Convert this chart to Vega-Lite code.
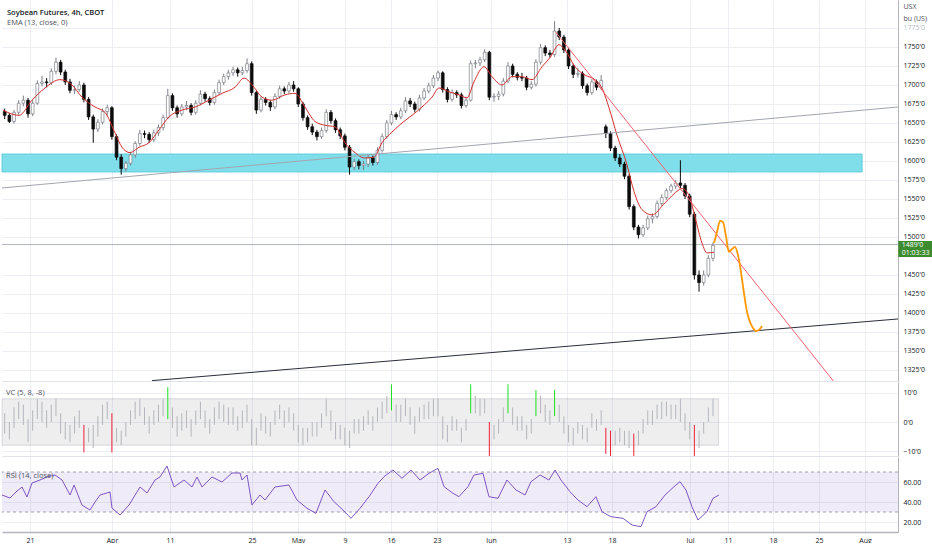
{
  "$schema": "https://vega.github.io/schema/vega-lite/v6.json",
  "background": "#ffffff",
  "padding": 0,
  "spacing": 1,
  "bounds": "flush",
  "datasets": {
    "bars": [
      {"t":-2.5,"o":1665,"h":1669,"l":1655,"c":1660,"vh":3,"vl":-4},
      {"t":-2,"o":1660,"h":1663,"l":1650,"c":1652,"vh":0,"vl":-6},
      {"t":-1.5,"o":1652,"h":1667,"l":1649,"c":1664,"vh":5,"vl":-2},
      {"t":-1,"o":1664,"h":1680,"l":1661,"c":1676,"vh":7,"vl":1},
      {"t":-0.5,"o":1676,"h":1686,"l":1672,"c":1680,"vh":6,"vl":-1},
      {"t":0,"o":1680,"h":1683,"l":1657,"c":1662,"vh":1,"vl":-7},
      {"t":0.5,"o":1662,"h":1680,"l":1659,"c":1676,"vh":4,"vl":-3},
      {"t":1,"o":1676,"h":1706,"l":1674,"c":1702,"vh":8,"vl":1},
      {"t":1.5,"o":1702,"h":1712,"l":1698,"c":1704,"vh":7,"vl":0},
      {"t":2,"o":1704,"h":1709,"l":1697,"c":1703,"vh":4,"vl":-2},
      {"t":2.5,"o":1703,"h":1722,"l":1700,"c":1718,"vh":6,"vl":0},
      {"t":3,"o":1718,"h":1736,"l":1714,"c":1730,"vh":8,"vl":2},
      {"t":3.5,"o":1730,"h":1733,"l":1713,"c":1717,"vh":3,"vl":-4},
      {"t":4,"o":1717,"h":1720,"l":1700,"c":1704,"vh":0,"vl":-6},
      {"t":4.5,"o":1704,"h":1708,"l":1689,"c":1693,"vh":-1,"vl":-7},
      {"t":5,"o":1693,"h":1699,"l":1688,"c":1694,"vh":2,"vl":-4},
      {"t":5.5,"o":1694,"h":1705,"l":1691,"c":1700,"vh":4,"vl":-2},
      {"t":6,"o":1700,"h":1703,"l":1677,"c":1681,"vh":-1,"vl":-10.5},
      {"t":6.5,"o":1681,"h":1684,"l":1654,"c":1658,"vh":-2,"vl":-7},
      {"t":7,"o":1658,"h":1661,"l":1624,"c":1642,"vh":-1,"vl":-9},
      {"t":7.5,"o":1642,"h":1655,"l":1638,"c":1651,"vh":2,"vl":-5},
      {"t":8,"o":1651,"h":1669,"l":1648,"c":1665,"vh":6,"vl":-1},
      {"t":8.5,"o":1665,"h":1674,"l":1660,"c":1670,"vh":7,"vl":1},
      {"t":9,"o":1670,"h":1672,"l":1628,"c":1632,"vh":3,"vl":-10.5},
      {"t":9.5,"o":1632,"h":1635,"l":1601,"c":1605,"vh":-2,"vl":-7},
      {"t":10,"o":1605,"h":1609,"l":1582,"c":1590,"vh":-3,"vl":-8},
      {"t":10.5,"o":1590,"h":1600,"l":1586,"c":1597,"vh":0,"vl":-5},
      {"t":11,"o":1597,"h":1612,"l":1594,"c":1608,"vh":4,"vl":-1},
      {"t":11.5,"o":1608,"h":1626,"l":1604,"c":1623,"vh":7,"vl":1},
      {"t":12,"o":1623,"h":1641,"l":1620,"c":1636,"vh":8,"vl":2},
      {"t":12.5,"o":1636,"h":1640,"l":1630,"c":1635,"vh":5,"vl":-1},
      {"t":13,"o":1635,"h":1638,"l":1624,"c":1628,"vh":2,"vl":-4},
      {"t":13.5,"o":1628,"h":1641,"l":1625,"c":1637,"vh":4,"vl":-1},
      {"t":14,"o":1637,"h":1648,"l":1633,"c":1644,"vh":6,"vl":0},
      {"t":14.5,"o":1644,"h":1661,"l":1640,"c":1657,"vh":8,"vl":2},
      {"t":15,"o":1657,"h":1695,"l":1655,"c":1686,"vh":12,"vl":1},
      {"t":15.5,"o":1686,"h":1689,"l":1666,"c":1670,"vh":5,"vl":-2},
      {"t":16,"o":1670,"h":1673,"l":1657,"c":1662,"vh":2,"vl":-5},
      {"t":16.5,"o":1662,"h":1675,"l":1659,"c":1671,"vh":3,"vl":-3},
      {"t":17,"o":1671,"h":1679,"l":1667,"c":1673,"vh":4,"vl":-2},
      {"t":17.5,"o":1673,"h":1676,"l":1660,"c":1664,"vh":1,"vl":-5},
      {"t":18,"o":1664,"h":1680,"l":1661,"c":1676,"vh":4,"vl":-1},
      {"t":18.5,"o":1676,"h":1693,"l":1673,"c":1688,"vh":7,"vl":1},
      {"t":19,"o":1688,"h":1691,"l":1678,"c":1682,"vh":4,"vl":-2},
      {"t":19.5,"o":1682,"h":1685,"l":1673,"c":1677,"vh":1,"vl":-4},
      {"t":20,"o":1677,"h":1694,"l":1674,"c":1690,"vh":5,"vl":-1},
      {"t":20.5,"o":1690,"h":1707,"l":1687,"c":1703,"vh":7,"vl":1},
      {"t":21,"o":1703,"h":1715,"l":1700,"c":1711,"vh":6,"vl":0},
      {"t":21.5,"o":1711,"h":1720,"l":1707,"c":1716,"vh":5,"vl":-1},
      {"t":22,"o":1716,"h":1724,"l":1712,"c":1720,"vh":5,"vl":-1},
      {"t":22.5,"o":1720,"h":1723,"l":1711,"c":1716,"vh":2,"vl":-3},
      {"t":23,"o":1716,"h":1724,"l":1713,"c":1719,"vh":4,"vl":-2},
      {"t":23.5,"o":1719,"h":1735,"l":1716,"c":1728,"vh":6,"vl":0},
      {"t":24,"o":1728,"h":1731,"l":1686,"c":1690,"vh":1,"vl":-8},
      {"t":24.5,"o":1690,"h":1693,"l":1662,"c":1667,"vh":-2,"vl":-8},
      {"t":25,"o":1667,"h":1685,"l":1664,"c":1681,"vh":3,"vl":-3},
      {"t":25.5,"o":1681,"h":1684,"l":1673,"c":1677,"vh":2,"vl":-4},
      {"t":26,"o":1677,"h":1680,"l":1666,"c":1671,"vh":0,"vl":-5},
      {"t":26.5,"o":1671,"h":1689,"l":1668,"c":1685,"vh":4,"vl":-1},
      {"t":27,"o":1685,"h":1699,"l":1682,"c":1695,"vh":6,"vl":1},
      {"t":27.5,"o":1695,"h":1698,"l":1688,"c":1692,"vh":4,"vl":-2},
      {"t":28,"o":1692,"h":1704,"l":1689,"c":1700,"vh":5,"vl":0},
      {"t":28.5,"o":1700,"h":1705,"l":1691,"c":1695,"vh":3,"vl":-3},
      {"t":29,"o":1695,"h":1697,"l":1671,"c":1675,"vh":-1,"vl":-7},
      {"t":29.5,"o":1675,"h":1678,"l":1653,"c":1657,"vh":-2,"vl":-8},
      {"t":30,"o":1657,"h":1660,"l":1641,"c":1645,"vh":-2,"vl":-7},
      {"t":30.5,"o":1645,"h":1649,"l":1634,"c":1638,"vh":0,"vl":-5},
      {"t":31,"o":1638,"h":1641,"l":1627,"c":1632,"vh":0,"vl":-5},
      {"t":31.5,"o":1632,"h":1644,"l":1629,"c":1640,"vh":3,"vl":-2},
      {"t":32,"o":1640,"h":1668,"l":1637,"c":1664,"vh":8,"vl":2},
      {"t":32.5,"o":1664,"h":1667,"l":1649,"c":1653,"vh":4,"vl":-3},
      {"t":33,"o":1653,"h":1656,"l":1637,"c":1641,"vh":0,"vl":-6},
      {"t":33.5,"o":1641,"h":1644,"l":1629,"c":1633,"vh":-1,"vl":-6},
      {"t":34,"o":1633,"h":1636,"l":1614,"c":1618,"vh":-2,"vl":-8},
      {"t":34.5,"o":1618,"h":1621,"l":1582,"c":1592,"vh":-3,"vl":-9},
      {"t":35,"o":1592,"h":1603,"l":1588,"c":1599,"vh":1,"vl":-4},
      {"t":35.5,"o":1599,"h":1602,"l":1589,"c":1594,"vh":1,"vl":-4},
      {"t":36,"o":1594,"h":1600,"l":1588,"c":1596,"vh":2,"vl":-3},
      {"t":36.5,"o":1596,"h":1608,"l":1592,"c":1604,"vh":4,"vl":-1},
      {"t":37,"o":1604,"h":1607,"l":1594,"c":1598,"vh":2,"vl":-3},
      {"t":37.5,"o":1598,"h":1618,"l":1595,"c":1614,"vh":5,"vl":0},
      {"t":38,"o":1614,"h":1636,"l":1611,"c":1632,"vh":7,"vl":1},
      {"t":38.5,"o":1632,"h":1654,"l":1629,"c":1650,"vh":9,"vl":3},
      {"t":39,"o":1650,"h":1666,"l":1647,"c":1661,"vh":13,"vl":4},
      {"t":39.5,"o":1661,"h":1664,"l":1654,"c":1658,"vh":6,"vl":0},
      {"t":40,"o":1658,"h":1670,"l":1655,"c":1666,"vh":6,"vl":0},
      {"t":40.5,"o":1666,"h":1684,"l":1663,"c":1679,"vh":8,"vl":2},
      {"t":41,"o":1679,"h":1683,"l":1671,"c":1675,"vh":5,"vl":-1},
      {"t":41.5,"o":1675,"h":1678,"l":1664,"c":1668,"vh":2,"vl":-4},
      {"t":42,"o":1668,"h":1687,"l":1665,"c":1683,"vh":5,"vl":0},
      {"t":42.5,"o":1683,"h":1696,"l":1680,"c":1692,"vh":6,"vl":1},
      {"t":43,"o":1692,"h":1703,"l":1689,"c":1699,"vh":7,"vl":1},
      {"t":43.5,"o":1699,"h":1713,"l":1696,"c":1709,"vh":8,"vl":2},
      {"t":44,"o":1709,"h":1719,"l":1705,"c":1716,"vh":8,"vl":2},
      {"t":44.5,"o":1716,"h":1718,"l":1690,"c":1694,"vh":2,"vl":-6},
      {"t":45,"o":1694,"h":1697,"l":1677,"c":1681,"vh":-1,"vl":-7},
      {"t":45.5,"o":1681,"h":1694,"l":1678,"c":1690,"vh":2,"vl":-3},
      {"t":46,"o":1690,"h":1693,"l":1683,"c":1687,"vh":1,"vl":-3},
      {"t":46.5,"o":1687,"h":1690,"l":1669,"c":1673,"vh":-2,"vl":-7},
      {"t":47,"o":1673,"h":1684,"l":1670,"c":1680,"vh":1,"vl":-3},
      {"t":47.5,"o":1680,"h":1732,"l":1678,"c":1728,"vh":13,"vl":3},
      {"t":48,"o":1728,"h":1733,"l":1722,"c":1729,"vh":9,"vl":3},
      {"t":48.5,"o":1729,"h":1737,"l":1725,"c":1733,"vh":8,"vl":2},
      {"t":49,"o":1733,"h":1747,"l":1730,"c":1743,"vh":8,"vl":3},
      {"t":49.5,"o":1743,"h":1745,"l":1680,"c":1684,"vh":0,"vl":-13},
      {"t":50,"o":1684,"h":1689,"l":1678,"c":1685,"vh":-1,"vl":-6},
      {"t":50.5,"o":1685,"h":1692,"l":1680,"c":1688,"vh":1,"vl":-4},
      {"t":51,"o":1688,"h":1709,"l":1685,"c":1705,"vh":5,"vl":0},
      {"t":51.5,"o":1705,"h":1730,"l":1702,"c":1725,"vh":13,"vl":3},
      {"t":52,"o":1725,"h":1728,"l":1710,"c":1714,"vh":5,"vl":-1},
      {"t":52.5,"o":1714,"h":1717,"l":1706,"c":1710,"vh":2,"vl":-3},
      {"t":53,"o":1710,"h":1716,"l":1705,"c":1709,"vh":2,"vl":-3},
      {"t":53.5,"o":1709,"h":1712,"l":1693,"c":1697,"vh":-1,"vl":-6},
      {"t":54,"o":1697,"h":1705,"l":1694,"c":1701,"vh":1,"vl":-4},
      {"t":54.5,"o":1701,"h":1734,"l":1698,"c":1730,"vh":11,"vl":2},
      {"t":55,"o":1730,"h":1754,"l":1727,"c":1749,"vh":9,"vl":3},
      {"t":55.5,"o":1749,"h":1752,"l":1738,"c":1742,"vh":6,"vl":0},
      {"t":56,"o":1742,"h":1746,"l":1736,"c":1740,"vh":4,"vl":-1},
      {"t":56.5,"o":1740,"h":1784,"l":1737,"c":1771,"vh":11,"vl":2},
      {"t":57,"o":1771,"h":1775,"l":1759,"c":1763,"vh":6,"vl":0},
      {"t":57.5,"o":1763,"h":1766,"l":1742,"c":1746,"vh":2,"vl":-4},
      {"t":58,"o":1746,"h":1749,"l":1721,"c":1725,"vh":-1,"vl":-7},
      {"t":58.5,"o":1725,"h":1728,"l":1709,"c":1714,"vh":-2,"vl":-8},
      {"t":59,"o":1714,"h":1722,"l":1710,"c":1715,"vh":0,"vl":-4},
      {"t":59.5,"o":1715,"h":1718,"l":1695,"c":1699,"vh":-1,"vl":-6},
      {"t":60,"o":1699,"h":1702,"l":1686,"c":1690,"vh":-2,"vl":-7},
      {"t":60.5,"o":1690,"h":1708,"l":1687,"c":1704,"vh":3,"vl":-2},
      {"t":61,"o":1704,"h":1707,"l":1693,"c":1697,"vh":1,"vl":-3},
      {"t":61.5,"o":1697,"h":1713,"l":1694,"c":1706,"vh":4,"vl":-1},
      {"t":62,"o":1645,"h":1648,"l":1630,"c":1636,"vh":-2,"vl":-11},
      {"t":62.5,"o":1636,"h":1639,"l":1613,"c":1617,"vh":-3,"vl":-12},
      {"t":63,"o":1617,"h":1620,"l":1600,"c":1604,"vh":-3,"vl":-8},
      {"t":63.5,"o":1604,"h":1609,"l":1592,"c":1596,"vh":-2,"vl":-7},
      {"t":64,"o":1596,"h":1599,"l":1576,"c":1580,"vh":-3,"vl":-8},
      {"t":64.5,"o":1580,"h":1583,"l":1536,"c":1540,"vh":-3,"vl":-9},
      {"t":65,"o":1540,"h":1543,"l":1509,"c":1513,"vh":-4,"vl":-13},
      {"t":65.5,"o":1513,"h":1516,"l":1498,"c":1503,"vh":-3,"vl":-8},
      {"t":66,"o":1503,"h":1516,"l":1500,"c":1512,"vh":1,"vl":-4},
      {"t":66.5,"o":1512,"h":1528,"l":1509,"c":1524,"vh":4,"vl":-1},
      {"t":67,"o":1524,"h":1531,"l":1518,"c":1527,"vh":4,"vl":-1},
      {"t":67.5,"o":1527,"h":1548,"l":1524,"c":1544,"vh":6,"vl":1},
      {"t":68,"o":1544,"h":1556,"l":1541,"c":1552,"vh":7,"vl":1},
      {"t":68.5,"o":1552,"h":1564,"l":1549,"c":1561,"vh":7,"vl":2},
      {"t":69,"o":1561,"h":1570,"l":1558,"c":1567,"vh":6,"vl":1},
      {"t":69.5,"o":1567,"h":1575,"l":1563,"c":1571,"vh":6,"vl":1},
      {"t":70,"o":1571,"h":1601,"l":1564,"c":1568,"vh":8,"vl":0},
      {"t":70.5,"o":1568,"h":1571,"l":1550,"c":1554,"vh":3,"vl":-3},
      {"t":71,"o":1554,"h":1557,"l":1526,"c":1530,"vh":0,"vl":-6},
      {"t":71.5,"o":1530,"h":1533,"l":1444,"c":1450,"vh":-1,"vl":-14},
      {"t":72,"o":1450,"h":1456,"l":1428,"c":1440,"vh":-3,"vl":-9},
      {"t":72.5,"o":1440,"h":1456,"l":1436,"c":1450,"vh":0,"vl":-4},
      {"t":73,"o":1450,"h":1476,"l":1447,"c":1472,"vh":5,"vl":0},
      {"t":73.5,"o":1472,"h":1493,"l":1468,"c":1489,"vh":8,"vl":2}
    ],
    "ema": [
      {"t":-2.7,"p":1667},{"t":-0.97,"p":1660},{"t":0.43,"p":1680},{"t":1.82,"p":1696},{"t":3.43,"p":1707},
      {"t":4.72,"p":1700},{"t":5.79,"p":1684},{"t":7.19,"p":1671},{"t":8.26,"p":1664},{"t":9.33,"p":1637},
      {"t":10.09,"p":1618},{"t":10.94,"p":1611},{"t":11.91,"p":1618},{"t":12.98,"p":1624},{"t":14.06,"p":1641},
      {"t":15.13,"p":1658},{"t":16.52,"p":1667},{"t":17.92,"p":1671},{"t":19.42,"p":1680},{"t":20.82,"p":1689},
      {"t":22.21,"p":1697},{"t":23.18,"p":1709},{"t":24.25,"p":1697},{"t":25.11,"p":1684},{"t":26.18,"p":1680},
      {"t":27.58,"p":1687},{"t":28.65,"p":1689},{"t":29.72,"p":1671},{"t":30.79,"p":1652},{"t":31.87,"p":1647},
      {"t":32.94,"p":1645},{"t":34.01,"p":1624},{"t":35.09,"p":1611},{"t":36.05,"p":1604},{"t":37.12,"p":1605},
      {"t":37.98,"p":1624},{"t":39.06,"p":1638},{"t":40.13,"p":1650},{"t":41.2,"p":1660},{"t":42.27,"p":1671},
      {"t":43.35,"p":1684},{"t":44.1,"p":1696},{"t":45.17,"p":1691},{"t":46.24,"p":1687},{"t":47.1,"p":1683},
      {"t":47.85,"p":1704},{"t":48.93,"p":1724},{"t":49.79,"p":1711},{"t":50.86,"p":1700},{"t":51.93,"p":1711},
      {"t":53.0,"p":1711},{"t":54.08,"p":1707},{"t":55.15,"p":1724},{"t":56.01,"p":1736},{"t":56.97,"p":1753},
      {"t":57.62,"p":1746},{"t":58.69,"p":1724},{"t":59.76,"p":1713},{"t":60.84,"p":1707},{"t":61.59,"p":1696},
      {"t":62.34,"p":1670},{"t":63.2,"p":1634},{"t":64.27,"p":1595},{"t":65.02,"p":1560},{"t":65.88,"p":1536},
      {"t":66.95,"p":1529},{"t":68.35,"p":1545},{"t":69.85,"p":1562},{"t":70.17,"p":1564},{"t":70.92,"p":1555},
      {"t":71.57,"p":1526},{"t":72.32,"p":1492},{"t":72.85,"p":1479},{"t":73.61,"p":1480}
    ],
    "rsi": [
      {"t":-2.79,"r":47},{"t":-1.93,"r":44},{"t":-1.29,"r":50},{"t":-0.64,"r":55},{"t":-0.11,"r":45},
      {"t":0.43,"r":59},{"t":1.29,"r":62},{"t":2.04,"r":65},{"t":2.9,"r":67},{"t":3.65,"r":62},
      {"t":4.51,"r":47},{"t":4.94,"r":57},{"t":5.79,"r":37},{"t":6.65,"r":32},{"t":7.19,"r":40},
      {"t":7.73,"r":47},{"t":8.8,"r":50},{"t":9.01,"r":34},{"t":9.87,"r":27},{"t":10.84,"r":37},
      {"t":12.02,"r":55},{"t":12.77,"r":49},{"t":13.63,"r":62},{"t":14.16,"r":65},{"t":14.91,"r":76},
      {"t":15.67,"r":55},{"t":16.74,"r":62},{"t":17.6,"r":55},{"t":18.13,"r":65},{"t":18.67,"r":55},
      {"t":19.74,"r":65},{"t":20.82,"r":60},{"t":21.89,"r":69},{"t":22.75,"r":69},{"t":22.96,"r":62},
      {"t":23.5,"r":67},{"t":24.03,"r":37},{"t":24.89,"r":47},{"t":25.43,"r":42},{"t":26.5,"r":55},
      {"t":28.0,"r":57},{"t":28.86,"r":42},{"t":29.94,"r":33.7},{"t":30.9,"r":28.7},{"t":31.87,"r":52},
      {"t":32.83,"r":40.3},{"t":33.8,"r":32},{"t":34.66,"r":23.7},{"t":35.62,"r":33.7},{"t":36.59,"r":45.3},
      {"t":37.55,"r":58.7},{"t":38.2,"r":65.3},{"t":39.16,"r":72},{"t":40.13,"r":63.7},{"t":41.09,"r":72},
      {"t":42.06,"r":62},{"t":43.03,"r":68.7},{"t":43.99,"r":73.7},{"t":44.64,"r":55.3},{"t":45.6,"r":48.7},
      {"t":46.24,"r":45.3},{"t":47.21,"r":55.3},{"t":47.85,"r":67},{"t":48.82,"r":68.7},{"t":49.46,"r":45.3},
      {"t":50.43,"r":43.7},{"t":51.39,"r":62},{"t":52.36,"r":52},{"t":53.33,"r":47},{"t":53.97,"r":60.3},
      {"t":54.94,"r":67},{"t":55.9,"r":62},{"t":56.55,"r":72},{"t":57.19,"r":62},{"t":58.15,"r":50.3},
      {"t":59.01,"r":42},{"t":59.98,"r":35.3},{"t":60.94,"r":45.3},{"t":61.59,"r":30.3},{"t":62.55,"r":25.3},
      {"t":63.84,"r":23.7},{"t":64.81,"r":17},{"t":65.77,"r":15.3},{"t":66.42,"r":30.3},{"t":67.38,"r":35.3},
      {"t":68.35,"r":47},{"t":69.31,"r":55.3},{"t":69.96,"r":60.3},{"t":70.6,"r":52},{"t":71.24,"r":35.3},
      {"t":71.89,"r":22},{"t":72.85,"r":30.3},{"t":73.5,"r":43.7},{"t":74.14,"r":47}
    ],
    "proj": [
      {"s":1,"t":73.61,"p":1492.1},{"s":2,"t":73.93,"p":1506.6},{"s":3,"t":74.25,"p":1521.1},
      {"s":4,"t":74.57,"p":1519.7},{"s":5,"t":74.89,"p":1501.3},{"s":6,"t":75.21,"p":1480.3},
      {"s":7,"t":75.54,"p":1484.2},{"s":8,"t":75.86,"p":1486.8},{"s":9,"t":76.18,"p":1476.3},
      {"s":10,"t":76.5,"p":1453.9},{"s":11,"t":76.82,"p":1426.3},{"s":12,"t":77.15,"p":1401.3},
      {"s":13,"t":77.47,"p":1388.2},{"s":14,"t":77.79,"p":1380.3},{"s":15,"t":78.11,"p":1376.3},
      {"s":16,"t":78.43,"p":1377.6},{"s":17,"t":78.76,"p":1382.9}
    ],
    "lines": [
      {"n":"support","t":-2.79,"p":1564.5,"t2":93.35,"p2":1671},
      {"n":"base","t":13.3,"p":1311,"t2":93.35,"p2":1392.1},
      {"n":"down","t":56.6,"p":1770,"t2":87.1,"p2":1300}
    ],
    "zone": [{"t":-2.79,"t2":89.5,"lo":1585.5,"hi":1609.2}],
    "last": [{"p":1490}],
    "tag": [{"t":93.38,"t2":97.2,"lo":1473.7,"hi":1494.7}],
    "tagtext": [
      {"t":93.75,"p":1489.6,"s":"1489'0"},
      {"t":93.75,"p":1478.6,"s":"01:03:33"}
    ],
    "vband": [{"t":-2.79,"t2":74.1,"lo":-8,"hi":8}],
    "rband": [{"lo":30,"hi":70}],
    "rlevels": [{"r":30},{"r":70}]
  },
  "vconcat": [
    {
      "width": 896,
      "height": 381,
      "title": {
        "text": "Soybean Futures, 4h, CBOT",
        "subtitle": "EMA (13, close, 0)",
        "anchor": "start",
        "frame": "group",
        "orient": "top",
        "offset": -26,
        "dx": 5,
        "font": "Open Sans",
        "fontSize": 7.5,
        "fontWeight": 600,
        "color": "#131722",
        "subtitleFont": "Open Sans",
        "subtitleFontSize": 7.5,
        "subtitleColor": "#50535e",
        "subtitlePadding": 2
      },
      "encoding": {
        "y": {"field": "p", "type": "quantitative", "scale": {"domain": [1310.5, 1811.8], "nice": false, "zero": false, "padding": 0},
          "axis": {"orient": "right", "values": [1325,1350,1375,1400,1425,1450,1500,1525,1550,1575,1600,1625,1650,1675,1700,1725,1750,1775],
            "labelExpr": "format(datum.value, '.0f') + \"'0\"",
            "labelColor": {"condition": {"test": "datum.value >= 1775", "value": "#b8bbc4"}, "value": "#131722"},
            "grid": true, "domain": true, "domainColor": "#b2b5be", "ticks": false, "labelPadding": 5,
            "labelFont": "Open Sans", "labelFontSize": 7, "labelFlush": false,
            "title": ["USX", "bu (US)"], "titleAngle": 0, "titleAlign": "left", "titleBaseline": "top",
            "titleX": 5, "titleY": 2, "titleFont": "Open Sans", "titleFontSize": 7, "titleFontWeight": "normal",
            "titleColor": "#50535e", "titleLineHeight": 12}}
      },
      "layer": [
        {
          "data": {"name": "zone"},
          "mark": {"type": "rect", "fill": "#80deea", "stroke": "#52c7d8", "strokeWidth": 0.8},
          "encoding": {
            "x": {"field": "t", "type": "quantitative", "scale": {"domain": [-2.79, 93.35], "nice": false, "zero": false, "padding": 0},
              "axis": {"orient": "bottom", "values": [0.21,9.01,15.24,24.03,28.97,34.01,38.95,43.88,49.68,57.83,62.66,71.03,75.11,79.94,84.87,89.81],
                "labels": false, "ticks": false, "domain": true, "domainColor": "#e0e3eb", "grid": true, "title": null}},
            "x2": {"field": "t2"},
            "y": {"field": "lo", "type": "quantitative"},
            "y2": {"field": "hi"}
          }
        },
        {
          "data": {"name": "last"},
          "mark": {"type": "rule", "color": "#b2b5be", "strokeWidth": 1}
        },
        {
          "data": {"name": "bars"},
          "mark": {"type": "rule", "strokeWidth": 1},
          "encoding": {
            "x": {"field": "t", "type": "quantitative"},
            "y": {"field": "l", "type": "quantitative"},
            "y2": {"field": "h"},
            "color": {"condition": {"test": "datum.c >= datum.o", "value": "#7c7f88"}, "value": "#0b0b0b"}
          }
        },
        {
          "data": {"name": "bars"},
          "mark": {"type": "bar", "size": 2.8, "strokeWidth": 0.7},
          "encoding": {
            "x": {"field": "t", "type": "quantitative"},
            "y": {"field": "o", "type": "quantitative"},
            "y2": {"field": "c"},
            "fill": {"condition": {"test": "datum.c >= datum.o", "value": "#ffffff"}, "value": "#0b0b0b"},
            "stroke": {"condition": {"test": "datum.c >= datum.o", "value": "#7c7f88"}, "value": "#0b0b0b"}
          }
        },
        {
          "data": {"name": "ema"},
          "mark": {"type": "line", "color": "#d32f2f", "strokeWidth": 1, "interpolate": "monotone"},
          "encoding": {
            "x": {"field": "t", "type": "quantitative"}
          }
        },
        {
          "data": {"name": "lines"},
          "mark": {"type": "rule", "strokeWidth": 1, "clip": true},
          "encoding": {
            "x": {"field": "t", "type": "quantitative"},
            "x2": {"field": "t2"},
            "y2": {"field": "p2"},
            "color": {"field": "n", "type": "nominal", "scale": {"domain": ["support", "base", "down"], "range": ["#a3a6af", "#2a2e39", "#f7626e"]}, "legend": null}
          }
        },
        {
          "data": {"name": "proj"},
          "mark": {"type": "line", "color": "#ff9800", "strokeWidth": 1.8, "interpolate": "monotone"},
          "encoding": {
            "x": {"field": "t", "type": "quantitative"},
            "order": {"field": "s", "type": "quantitative"}
          }
        },
        {
          "data": {"name": "tag"},
          "mark": {"type": "rect", "fill": "#3d8b2f"},
          "encoding": {
            "x": {"field": "t", "type": "quantitative"},
            "x2": {"field": "t2"},
            "y": {"field": "lo", "type": "quantitative"},
            "y2": {"field": "hi"}
          }
        },
        {
          "data": {"name": "tagtext"},
          "mark": {"type": "text", "color": "#ffffff", "font": "Open Sans", "fontSize": 7, "align": "left", "baseline": "middle"},
          "encoding": {
            "x": {"field": "t", "type": "quantitative"},
            "text": {"field": "s"}
          }
        }
      ]
    },
    {
      "width": 896,
      "height": 74,
      "title": {
        "text": "VC (5, 8, -8)",
        "anchor": "start",
        "frame": "group",
        "orient": "top",
        "offset": -14,
        "dx": 4,
        "font": "Open Sans",
        "fontSize": 7.5,
        "fontWeight": "normal",
        "color": "#50535e"
      },
      "encoding": {
        "y": {"field": "lo", "type": "quantitative", "scale": {"domain": [-11.72, 13.79], "nice": false, "zero": false},
          "axis": {"orient": "right", "values": [-10, 0, 10], "labelExpr": "format(datum.value, 'd') + \"'0\"",
            "grid": true, "domain": true, "domainColor": "#b2b5be", "ticks": false, "labelPadding": 5,
            "labelFont": "Open Sans", "labelFontSize": 7, "labelColor": "#131722", "labelFlush": false, "title": null}}
      },
      "layer": [
        {
          "data": {"name": "vband"},
          "mark": {"type": "rect", "fill": "#787b86", "fillOpacity": 0.13, "stroke": "#787b86", "strokeOpacity": 0.3, "strokeWidth": 0.8},
          "encoding": {
            "x": {"field": "t", "type": "quantitative", "scale": {"domain": [-2.79, 93.35], "nice": false, "zero": false, "padding": 0},
              "axis": {"orient": "bottom", "values": [0.21,9.01,15.24,24.03,28.97,34.01,38.95,43.88,49.68,57.83,62.66,71.03,75.11,79.94,84.87,89.81],
                "labels": false, "ticks": false, "domain": true, "domainColor": "#e0e3eb", "grid": true, "title": null}},
            "x2": {"field": "t2"},
            "y2": {"field": "hi"}
          }
        },
        {
          "data": {"name": "bars"},
          "mark": {"type": "rule", "strokeWidth": 1, "clip": true},
          "encoding": {
            "x": {"field": "t", "type": "quantitative"},
            "y": {"field": "vl", "type": "quantitative"},
            "y2": {"field": "vh"},
            "color": {"condition": [
              {"test": "datum.vh >= 10", "value": "#1ee01e"},
              {"test": "datum.vl <= -10", "value": "#f0203a"}
            ], "value": "#b4b6bb"}
          }
        }
      ]
    },
    {
      "width": 896,
      "height": 75,
      "title": {
        "text": "RSI (14, close)",
        "anchor": "start",
        "frame": "group",
        "orient": "top",
        "offset": -22,
        "dx": 4,
        "font": "Open Sans",
        "fontSize": 7.5,
        "fontWeight": "normal",
        "color": "#50535e"
      },
      "encoding": {
        "y": {"field": "r", "type": "quantitative", "scale": {"domain": [10, 85], "nice": false, "zero": false},
          "axis": {"orient": "right", "values": [20, 40, 60], "format": ".2f",
            "grid": true, "domain": true, "domainColor": "#b2b5be", "ticks": false, "labelPadding": 5,
            "labelFont": "Open Sans", "labelFontSize": 7, "labelColor": "#131722", "labelFlush": false, "title": null}}
      },
      "layer": [
        {
          "data": {"name": "rband"},
          "mark": {"type": "rect", "fill": "#7e57c2", "fillOpacity": 0.12},
          "encoding": {
            "y": {"field": "lo", "type": "quantitative"},
            "y2": {"field": "hi"}
          }
        },
        {
          "data": {"name": "rlevels"},
          "mark": {"type": "rule", "color": "#8e8aa0", "strokeWidth": 0.8, "strokeDash": [3, 3]}
        },
        {
          "data": {"name": "rsi"},
          "mark": {"type": "line", "color": "#7e57c2", "strokeWidth": 1},
          "encoding": {
            "x": {"field": "t", "type": "quantitative", "scale": {"domain": [-2.79, 93.35], "nice": false, "zero": false, "padding": 0},
              "axis": {"orient": "bottom", "values": [0.21,9.01,15.24,24.03,28.97,34.01,38.95,43.88,49.68,57.83,62.66,71.03,75.11,79.94,84.87,89.81],
                "labelExpr": "['21','Apr','11','25','May','9','16','23','Jun','13','18','Jul','11','18','25','Aug'][indexof([0.21,9.01,15.24,24.03,28.97,34.01,38.95,43.88,49.68,57.83,62.66,71.03,75.11,79.94,84.87,89.81], datum.value)]",
                "grid": true, "domain": true, "domainColor": "#b2b5be", "domainWidth": 1.5, "labelPadding": 4, "title": null}}
          }
        }
      ]
    }
  ],
  "config": {
    "view": {"stroke": null},
    "font": "Open Sans",
    "axis": {
      "labelFont": "Open Sans",
      "labelFontSize": 7,
      "labelColor": "#131722",
      "gridColor": "#eceef3",
      "gridWidth": 1,
      "domainColor": "#b2b5be",
      "ticks": false,
      "labelPadding": 5,
      "labelOverlap": false,
      "labelFlush": false
    }
  }
}
